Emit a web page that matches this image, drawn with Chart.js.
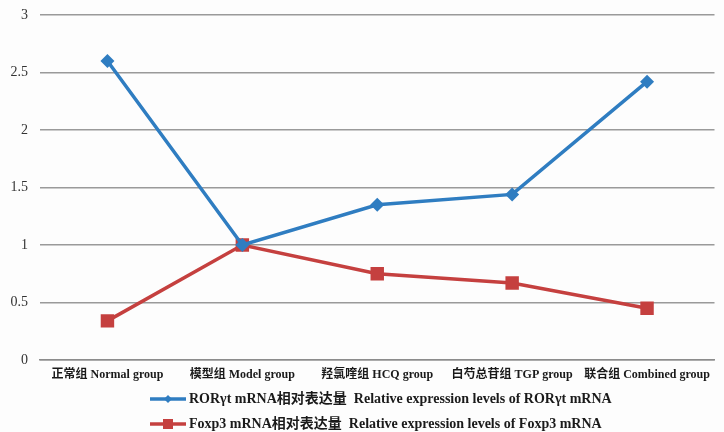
<!DOCTYPE html>
<html>
<head>
<meta charset="utf-8">
<script src="https://cdn.jsdelivr.net/npm/chart.js@4"></script>
<style>
  html, body { margin: 0; padding: 0; background: #fdfdfd; }
  #wrap { width: 724px; height: 432px; }
</style>
</head>
<body>
<div id="wrap"><canvas id="c" width="724" height="432"></canvas></div>
<script>
// Groups on the x axis
const groups = [
  '正常组 Normal group',
  '模型组 Model group',
  '羟氯喹组 HCQ group',
  '白芍总苷组 TGP group',
  '联合组 Combined group'
];

// Relative mRNA expression per group
const rorgtValues = [2.6, 1.0, 1.35, 1.44, 2.42];
const foxp3Values = [0.34, 1.0, 0.75, 0.67, 0.45];

const seriesNames = [
  'RORγt mRNA相对表达量  Relative expression levels of RORγt mRNA',
  'Foxp3 mRNA相对表达量  Relative expression levels of Foxp3 mRNA'
];

const yTicks = [0, 0.5, 1, 1.5, 2, 2.5, 3];

const FONT = '"Liberation Serif", "Noto Sans CJK SC", serif';
const BLUE = '#2f7dc1';
const RED = '#c5403f';

// Legend drawn under the axis: a short line with the series marker, then the name
const lineLegend = {
  id: 'lineLegend',
  afterDraw(chart) {
    const ctx = chart.ctx;
    const x0 = 150, x1 = 186;
    const rows = [399, 424];
    ctx.save();
    chart.data.datasets.forEach((ds, i) => {
      const y = rows[i];
      ctx.strokeStyle = ds.borderColor;
      ctx.lineWidth = 3.5;
      ctx.beginPath();
      ctx.moveTo(x0, y);
      ctx.lineTo(x1, y);
      ctx.stroke();
      ctx.fillStyle = ds.borderColor;
      const cx = (x0 + x1) / 2;
      if (ds.pointStyle === 'rectRot') {
        ctx.beginPath();
        ctx.moveTo(cx, y - 4); ctx.lineTo(cx + 4, y); ctx.lineTo(cx, y + 4); ctx.lineTo(cx - 4, y);
        ctx.closePath(); ctx.fill();
      } else {
        ctx.fillRect(cx - 5, y - 5, 10, 10);
      }
      ctx.fillStyle = '#1a1a1a';
      ctx.font = 'bold 14px ' + FONT;
      ctx.textBaseline = 'middle';
      ctx.textAlign = 'left';
      ctx.fillText(ds.label, x1 + 3, y);
    });
    ctx.restore();
  }
};

new Chart(document.getElementById('c'), {
  type: 'line',
  data: {
    labels: groups,
    datasets: [
      {
        label: seriesNames[0],
        data: rorgtValues,
        borderColor: BLUE,
        backgroundColor: BLUE,
        borderWidth: 3.5,
        pointStyle: 'rectRot',
        pointRadius: 7,
        pointHoverRadius: 7,
        pointBorderWidth: 0,
        tension: 0
      },
      {
        label: seriesNames[1],
        data: foxp3Values,
        borderColor: RED,
        backgroundColor: RED,
        borderWidth: 3.5,
        pointStyle: 'rect',
        pointRadius: 9.5,
        pointHoverRadius: 9.5,
        pointBorderWidth: 0,
        tension: 0
      }
    ]
  },
  options: {
    responsive: false,
    animation: false,
    devicePixelRatio: 1,
    layout: { padding: { top: 15, bottom: 50, left: 0, right: 0 } },
    plugins: {
      legend: { display: false },
      tooltip: { enabled: false }
    },
    scales: {
      x: {
        offset: true,
        grid: { display: false, drawTicks: false },
        border: { display: true, color: '#8c8c8c', width: 1.5 },
        ticks: {
          color: '#1a1a1a',
          font: { family: FONT, size: 12, weight: 'bold' },
          padding: 8,
          maxRotation: 0,
          autoSkip: false
        },
        afterFit(s) { s.height = 22; }
      },
      y: {
        min: 0,
        max: 3,
        afterBuildTicks(s) { s.ticks = yTicks.map(v => ({ value: v })); },
        grid: { color: '#9a9a9a', lineWidth: 1.5, drawTicks: false },
        border: { display: false },
        ticks: {
          color: '#333',
          font: { family: FONT, size: 14 },
          padding: 12,
          callback: v => String(v)
        },
        afterFit(s) { s.width = 40; s.paddingTop = 0; s.paddingBottom = 0; }
      }
    }
  },
  plugins: [lineLegend]
});
</script>
</body>
</html>
